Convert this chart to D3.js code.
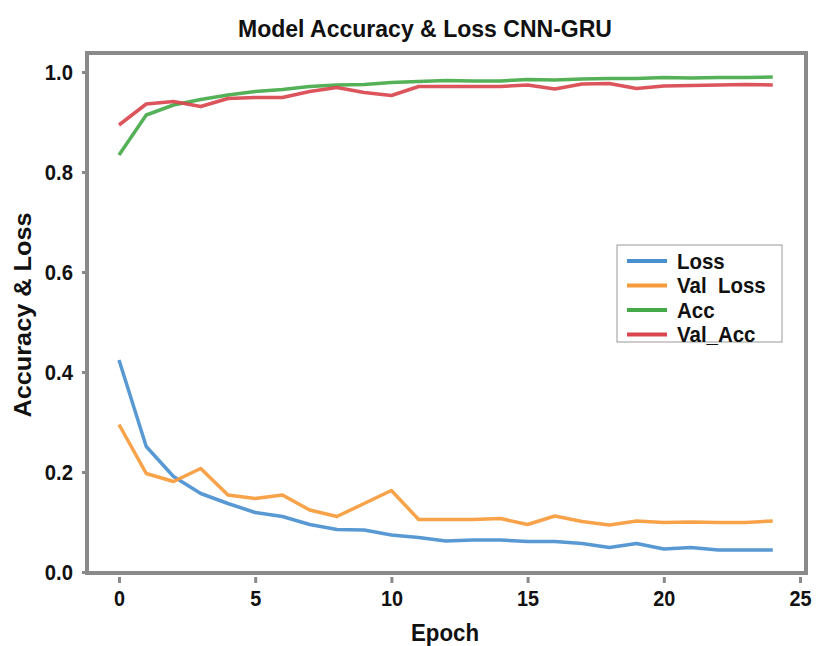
<!DOCTYPE html>
<html>
<head>
<meta charset="utf-8">
<script src="https://cdn.jsdelivr.net/npm/d3@7"></script>
<style>
  body { margin: 0; background: #fff; }
  text { font-family: "Liberation Sans", Arial, sans-serif; font-weight: bold; fill: #111; }
</style>
</head>
<body>
<svg id="chart" width="816" height="646"></svg>
<script>
const epochs = d3.range(0, 25);
const loss    = [0.424,0.251,0.191,0.157,0.137,0.119,0.111,0.095,0.085,0.084,0.074,0.069,0.062,0.064,0.064,0.061,0.061,0.057,0.049,0.057,0.046,0.049,0.044,0.044,0.044];
const valLoss = [0.295,0.197,0.181,0.207,0.154,0.147,0.154,0.124,0.111,0.137,0.163,0.105,0.105,0.105,0.107,0.095,0.112,0.101,0.094,0.102,0.099,0.100,0.099,0.099,0.102];
const acc     = [0.834,0.914,0.934,0.945,0.954,0.961,0.965,0.971,0.974,0.975,0.979,0.981,0.983,0.982,0.982,0.985,0.984,0.986,0.987,0.987,0.989,0.988,0.989,0.989,0.990];
const valAcc  = [0.894,0.936,0.941,0.931,0.947,0.949,0.949,0.961,0.969,0.959,0.953,0.971,0.971,0.971,0.971,0.974,0.966,0.976,0.977,0.967,0.972,0.973,0.974,0.975,0.974];
const seriesNames = ["Loss", "Val  Loss", "Acc", "Val_Acc"];
const seriesColors = ["#4a90d0", "#f79a3a", "#45aa4a", "#d9464f"];
const xTicks = [0, 5, 10, 15, 20, 25];
const yTicks = [0.0, 0.2, 0.4, 0.6, 0.8, 1.0];

const svg = d3.select("#chart");
const x = d3.scaleLinear().domain([0, 25]).range([119, 800]);
const y = d3.scaleLinear().domain([0, 1]).range([572, 72]);

function condense(sel, f) {
  sel.each(function() {
    const len = this.getComputedTextLength();
    d3.select(this).attr("textLength", len * f).attr("lengthAdjust", "spacingAndGlyphs");
  });
}

// Title
svg.append("text").attr("x", 425).attr("y", 37).attr("text-anchor", "middle")
  .style("font-size", "23px").attr("textLength", 374).attr("lengthAdjust", "spacingAndGlyphs")
  .text("Model Accuracy & Loss CNN-GRU");

// Frame
svg.append("rect").attr("x", 87).attr("y", 53).attr("width", 719).attr("height", 520)
  .attr("fill", "none").attr("stroke", "#8a8a8a").attr("stroke-width", 4);

// Y axis
const yAxis = d3.axisLeft(y).tickValues(yTicks).tickFormat(d3.format(".1f")).tickSize(4).tickPadding(9);
const gy = svg.append("g").attr("transform", "translate(86,0)").call(yAxis);
gy.select(".domain").remove();
gy.selectAll(".tick line").attr("stroke", "#8a8a8a").attr("stroke-width", 3);
gy.selectAll(".tick text").style("font-size", "22px").style("font-family", "Liberation Sans, Arial, sans-serif")
  .style("font-weight", "bold").attr("fill", "#111").attr("dy", "0.35em");
condense(gy.selectAll(".tick text"), 0.92);

// X axis
const xAxis = d3.axisBottom(x).tickValues(xTicks).tickFormat(d3.format("d")).tickSize(6).tickPadding(7);
const gx = svg.append("g").attr("transform", "translate(0,577)").call(xAxis);
gx.select(".domain").remove();
gx.selectAll(".tick line").attr("stroke", "#8a8a8a").attr("stroke-width", 3);
gx.selectAll(".tick text").style("font-size", "22px").style("font-family", "Liberation Sans, Arial, sans-serif")
  .style("font-weight", "bold").attr("fill", "#111");
condense(gx.selectAll(".tick text"), 0.9);

// Axis titles
svg.append("text").attr("x", 445).attr("y", 641).attr("text-anchor", "middle")
  .style("font-size", "23px").attr("textLength", 68).attr("lengthAdjust", "spacingAndGlyphs").text("Epoch");
svg.append("text").attr("transform", "translate(31,315) rotate(-90)").attr("text-anchor", "middle")
  .style("font-size", "23px").attr("textLength", 205).attr("lengthAdjust", "spacingAndGlyphs").text("Accuracy & Loss");

// Lines
const allSeries = [loss, valLoss, acc, valAcc];
const line = d3.line().x((d, i) => x(epochs[i])).y(d => y(d));
allSeries.forEach((s, k) => {
  svg.append("path").datum(s).attr("d", line).attr("fill", "none")
    .attr("stroke", seriesColors[k]).attr("stroke-width", 3.5).attr("stroke-linejoin", "round")
    .attr("opacity", 0.92);
});

// Legend
const lg = svg.append("g");
lg.append("rect").attr("x", 617).attr("y", 245).attr("width", 165).attr("height", 97)
  .attr("fill", "#fff").attr("stroke", "#999").attr("stroke-width", 1);
seriesNames.forEach((name, k) => {
  const yy = 261 + k * 24.5;
  lg.append("line").attr("x1", 627).attr("x2", 667).attr("y1", yy).attr("y2", yy)
    .attr("stroke", seriesColors[k]).attr("stroke-width", 4);
  lg.append("text").attr("x", 677).attr("y", yy).attr("dy", "0.36em")
    .style("font-size", "22px").style("white-space", "pre").attr("xml:space", "preserve").text(name);
});
condense(lg.selectAll("text"), 0.93);
</script>
</body>
</html>
